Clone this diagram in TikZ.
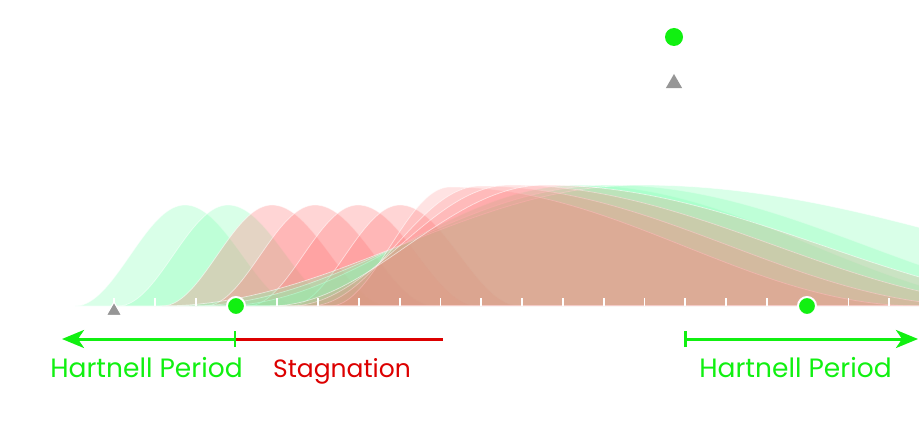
\documentclass[tikz,border=0pt]{standalone}
\usepackage{fontspec}
\setmainfont{Poppins}
\usetikzlibrary{arrows.meta,shapes.geometric}
\definecolor{hgreen}{RGB}{17,240,17}
\definecolor{sred}{RGB}{220,0,0}
\definecolor{cred}{rgb}{1,0.45,0.45}
\definecolor{cgreen}{rgb}{0.5,1,0.7}
\definecolor{tgray}{RGB}{150,150,150}
% [#1 opacity] #2 colour, #3 start, #4 peak, #5 end, #6 height
\newcommand\Crv[6][0.3]{%
  \path[fill=#2, fill opacity=#1, draw=white, draw opacity=0.6, line width=0.7pt]
    (#3,306) -- plot[domain=#3:#4,samples=50] (\x,{306-#6*(1-cos(180*((\x-#3)/(#4-#3))))/2})
    -- plot[domain=#4:#5,samples=60] (\x,{306-#6*(1+cos(180*((\x-#4)/(#5-#4))))/2})
    -- (#5,306) -- cycle;}
\tikzset{
  gdot/.style={circle, fill=hgreen, inner sep=0pt, minimum size=#1},
  tri/.style={regular polygon, regular polygon sides=3, fill=tgray, inner sep=0pt, minimum size=18pt},
  lbl/.style={font=\fontsize{#1}{30}\selectfont, anchor=base, inner sep=0pt},
}
\begin{document}
\begin{tikzpicture}[x=1pt,y=-1pt]
\useasboundingbox (0,0) rectangle (919,433);
\begin{scope}
\clip (0,0) rectangle (919,433);
% narrow bumps
\Crv{cgreen}{75}{185}{300}{101}
\Crv{cgreen}{118}{228}{345}{101}
\Crv{cred}{162}{272}{390}{101}
\Crv{cred}{205}{315}{435}{101}
\Crv{cred}{248}{358}{478}{101}
\Crv{cred}{290}{400}{520}{101}
% wide bumps, green
\Crv{cgreen}{220}{580}{1046}{121}
\Crv{cgreen}{190}{610}{1122}{121}
\Crv{cgreen}{160}{640}{1332}{121}
% wide bumps, red
\Crv[0.2]{cred}{330}{450}{920}{119}
\Crv[0.2]{cred}{310}{480}{980}{120}
\Crv[0.2]{cred}{290}{510}{1040}{121}
\Crv[0.2]{cred}{270}{545}{1100}{121}
% ticks
\foreach \i in {0,...,19} \draw[white, line width=1.8pt] ({114+40.8*\i},298) -- ++(0,8);
\end{scope}
% markers
\node[tri, draw=white, line width=1.2pt] (t1) at (114,311) {};
\node[tri, minimum size=19pt] (t2) at (674,83.5) {};
\node[gdot=18pt, draw=white, line width=2pt] (d1) at (236,306) {};
\node[gdot=18pt, draw=white, line width=2pt] (d2) at (807,306) {};
\node[gdot=18pt] (d3) at (674,37) {};
% arrows
\coordinate (aL0) at (236,339);
\coordinate (aL1) at (62,339);
\coordinate (sE) at (443,339);
\coordinate (aR0) at (684,339);
\coordinate (aR1) at (918,339);
\draw[sred, line width=3pt] (aL0) -- (sE);
\draw[hgreen, line width=3pt, {Bar[width=16pt,line width=2.5pt]}-{Stealth[length=22pt,width=18pt,inset=6pt]}] (aL0) -- (aL1);
\draw[hgreen, line width=3pt, {Bar[width=16pt,line width=2.5pt]}-{Stealth[length=22pt,width=18pt,inset=6pt]}] (aR0) -- (aR1);
% labels
\node[lbl=26.5, text=hgreen] (h1) at (146.5,377) {Hartnell Period};
\node[lbl=25, text=sred] (s1) at (342,377) {Stagnation};
\node[lbl=26.5, text=hgreen] (h2) at (795.5,377) {Hartnell Period};
\end{tikzpicture}
\end{document}
